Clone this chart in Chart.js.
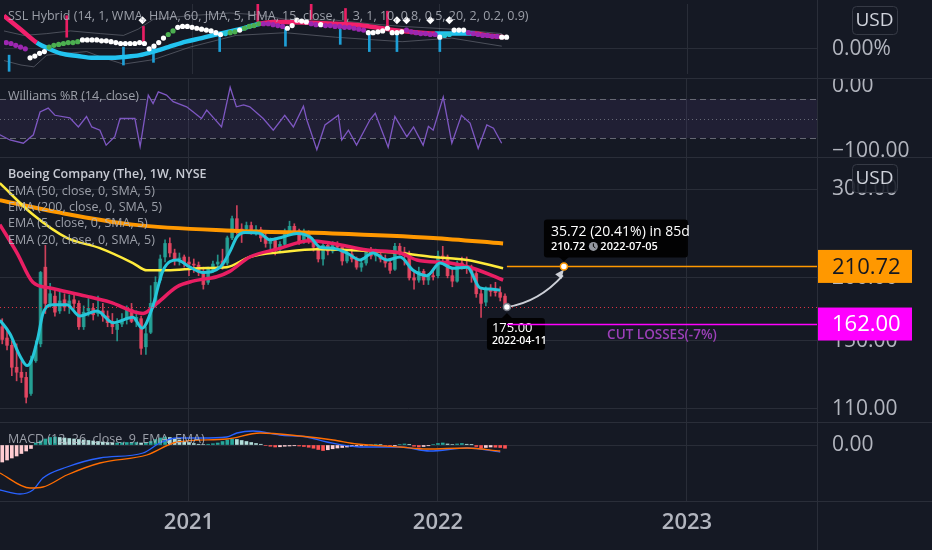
<!DOCTYPE html>
<html>
<head>
<meta charset="utf-8">
<script src="https://cdn.jsdelivr.net/npm/chart.js"></script>
<style>
  body { margin: 0; background: #2a2e39; }
  #wrap { position: relative; width: 932px; height: 550px; overflow: hidden; background: #2a2e39; }
  #wrap canvas { position: absolute; left: 0; display: block; background: #151924; }
</style>
</head>
<body>
<div id="wrap">
  <canvas id="sslPane" width="932" height="78" style="top:0px"></canvas>
  <canvas id="wprPane" width="932" height="78" style="top:79px"></canvas>
  <canvas id="pricePane" width="932" height="264" style="top:158px"></canvas>
  <canvas id="macdPane" width="932" height="127" style="top:423px"></canvas>
</div>

<script>
// x values are weeks counted from the first weekly bar of 2021 (2021-01-04)
const firstWeek = -39;
const yearTicks = [0, 52, 104];
const yearLabels = ['2021', '2022', '2023'];

// Boeing weekly candles, 2020-04-06 .. 2022-04-11
const candleOpen = [160,152,147,133,130,127,118,137,148,210,178,184,172,181,176,181,178,160,172,174,170,172,168,164,158,162,166,173,164,166,146,156,178,198,220,234,224,218,220,215,213,212,205,196,208,213,216,214,240,262,250,250,254,247,249,241,234,237,228,233,248,253,248,236,246,236,230,218,232,226,233,230,216,223,218,210,214,226,221,222,218,214,208,231,225,222,200,198,206,198,202,202,221,220,202,197,214,211,210,204,186,179,190,189,187,184];
const candleHigh = [166,158,150,148,137,130,140,150,206,232,195,190,189,186,185,186,180,176,182,178,184,178,172,170,166,170,176,178,172,168,160,193,201,222,238,240,228,224,222,220,218,215,210,210,216,222,228,242,265,278,256,258,258,254,252,246,240,240,236,250,259,256,250,250,248,238,232,236,236,236,236,232,226,226,220,216,228,230,228,226,222,218,234,234,230,226,205,210,208,204,206,226,231,222,208,216,220,220,212,206,190,192,194,196,192,186];
const candleLow = [148,144,128,125,124,113,117,136,146,170,175,168,170,172,170,174,158,158,168,165,168,164,160,155,150,160,162,163,160,141,141,155,175,196,215,220,212,212,210,202,205,202,190,194,205,210,208,212,238,244,235,245,244,243,236,230,228,222,224,232,245,244,233,234,234,226,215,212,222,224,228,212,214,215,208,206,212,218,216,215,210,204,207,222,212,198,190,196,194,194,198,200,216,200,192,196,208,204,196,183,167,176,184,184,180,174];
const candleClose = [151,147,133,130,127,116,137,146,205,178,186,171,180,175,180,178,160,171,174,169,172,168,163,160,162,165,173,164,167,145,155,178,196,218,234,224,218,219,214,213,212,205,194,208,213,215,212,240,262,250,248,254,246,249,240,234,237,228,233,247,253,248,236,246,236,230,218,232,226,233,230,216,223,218,210,214,226,221,222,218,214,207,231,225,222,200,198,206,198,202,201,221,220,202,197,214,211,210,205,186,178,190,188,187,183,175];

// moving averages
const ema200Week = [-39.5, -27.6, -11.7, 9.2, 30, 51, 65.6];
const ema200Value = [285, 270, 255, 248, 245, 240, 234];
const ema50Week = [-39.5, -32.6, -25.5, -18.6, -11.7, -8.8, -4.6, 2.3, 7.9, 12.7, 19.6, 26.7, 33.6, 44.1, 51, 58.1, 65.6];
const ema50Value = [308, 267, 240, 229, 214, 207, 207, 209, 210, 220, 225, 228, 227, 224, 220, 217, 209];
const ema20Week = [-39.5, -35.9, -32.6, -29, -21.5, -16.5, -9.6, -6.7, -2.5, 0.8, 5.8, 8.5, 12.7, 18.4, 25.3, 30.1, 37.2, 44.1, 47.6, 54.5, 59.3, 65.6];
const ema20Value = [255, 224, 196, 191, 184, 179, 170, 178, 192, 197, 201, 206, 220, 228, 237, 234, 227, 224, 217, 214, 209, 198];
const ema5Week = [-39.5,-37.4,-35.3,-33.8,-32.8,-31.5,-30.5,-28.4,-25.5,-22.8,-19.2,-15.9,-11.7,-9.8,-7.7,-5.4,-2.5,0.2,2.9,6.5,8.6,10,11.7,14.8,16.9,19.6,22.6,25.3,27.4,30.1,33,35.7,38.4,41.4,44.1,46.8,49.7,52.4,55.1,58.1,60.8,62.9,65];
const ema5Value = [165,155,140,134,138,153,170,177,177,168,172,163,167,159,174,207,217,210,205,210,226,241,246,245,238,241,245,241,230,229,224,217,224,217,220,207,202,214,209,210,191,190,189];

// trade drawing
const entryWeek = 66.4, entryPrice = 175.00, entryDate = '2022-04-11';
const targetWeek = 78.3, targetPrice = 210.72, targetDate = '2022-07-05';
const stopPrice = 162.00;
const moveText = '35.72 (20.41%) in 85d';
const stopText = 'CUT LOSSES(-7%)';
const priceTicks = [110, 150, 200, 300];

// SSL Hybrid pane (values in pane percent)
const sslBaseWeek = [-39.5, -36, -32.6, -30, -27.6, -24, -20.7, -17, -14.4, -11, -8.1, -5, -1.3, 2, 5.8, 10, 14.2, 17, 19.6, 25, 30.1, 34, 37.2, 41, 44.1, 48, 51, 55, 59.3, 62, 65.5];
const sslBaseValue = [37, 22, 7, 0, -5, -8, -10, -10, -9, -7, -3, 2, 8, 12, 17, 22, 28, 30, 30, 29, 28, 27, 25, 22, 20, 18, 17, 17, 17, 15, 13];
const sslTrend = ['dn','dn','up','up','up','up','up','up','up','up','up','up','up','up','up','up','dn','dn','dn','dn','dn','dn','dn','dn','dn','dn','up','up','dn','dn','dn'];
const sslDotValue = [7,6,4,2,0,-10,-8,-5,-3,2,4,5,6,7,7,8,10,10,10,10,9,9,8,7,6,6,6,6,7,6,0,3,7,12,16,20,24,25,25,24,23,22,21,20,18,16,17,18,19,21,23,25,26,28,28,28,27,26,25,23,26,32,31,30,28,27,27,26,26,25,25,24,24,23,22,21,18,18,19,20,23,18,18,19,21,19,18,17,17,16,16,13,15,16,21,21,21,18,17,16,15,15,14,14,13,13];
const sslDotKind = 'ppppp' + 'wwww' + 'ggggggg' + 'wwwwwwwwwwwwwwwwww' + 'gg' + 'wwwwwwwwww' + 'c' + 'gg' + 'w' + 'gggg' +
                   'ppppp' + 'wwwww' + 'pp' + 'w' + 'ppppppppp' + 'wwwwwwww' + 'ppppppp' + 'w' + 'cc' + 'www' + 'ppppppp' + 'ww';
const sslUpperWeek = [-39.5, -35.3, -30.5, -25.5, -19.2, -14.4, -11.3, -8.1, -0.4, 7.9, 13.8, 19.6, 30.1, 37.2, 44.1, 54.5, 65];
const sslUpperValue = [20, 15, 17, 20, 17, 15, 22, 33, 37, 40, 38, 33, 32, 28, 25, 22, 17];
const sslLowerWeek = [-39.5, -35.9, -33.2, -30.5, -22.1, -18.6, -14.4, -8.1, -0.4, 9.2, 19.6, 30.1, 44.1, 54.5, 65];
const sslLowerValue = [-13, -18, -20, -7, -3, -10, -17, -12, 2, 15, 18, 13, 8, 12, 3];
const sellTickWeek = [-38.4, -14.4, -8.1, 5.8, 19.6, 31.1, 37.2, 43, 52];
const sellTickRange = [[-25,-7],[-18,2],[-15,5],[-3,17],[3,23],[5,22],[-3,17],[-3,18],[-3,13]];
const buyTickWeek = [-26.3, -10.2, 13.8, 25, 32.2, 41];
const buyTickRange = [[13,37],[7,25],[30,50],[33,50],[25,45],[22,42]];
const diamondWeek = [-10.4, 43, 45, 50, 54];
const diamondValue = [32, 32, 32, 32, 32];

// Williams %R (14, close)
const wprWeek = [-39.5,-37.4,-34.6,-32.5,-31.1,-29.4,-28.0,-24.9,-23.1,-21.4,-20.3,-18.6,-17.3,-15.5,-14.4,-11.3,-10.2,-8.5,-7.5,-6.4,-4.7,-3.3,-0.5,0.9,2.6,3.7,6.8,8.6,9.9,11.4,12.7,15.5,17.6,20.0,21.8,23.9,24.6,26.7,28.4,31.2,31.9,33.3,35.0,37.8,38.9,41.6,43.0,45.5,46.9,48.9,50.0,51.0,53.1,54.9,56.9,58.7,60.4,62.2,63.6,65.3];
const wprValue = [-75,-83,-88,-75,-40,-34,-45,-49,-63,-47,-63,-68,-91,-78,-50,-50,-93,-14,-27,-9,-14,-24,-32,-40,-50,-37,-63,-2,-32,-29,-32,-50,-68,-45,-63,-31,-52,-98,-60,-45,-83,-68,-91,-52,-42,-94,-47,-78,-63,-91,-62,-68,-17,-88,-45,-57,-96,-60,-65,-88];

// MACD (12, 26, close, 9)
const macdHist = [-6.8,-6.0,-5.2,-4.4,-3.4,-2.4,-1.4,
  0.8,1.6,2.4,3.0,3.2,3.0,2.8,2.6,2.4,2.2,2.0,1.8,1.6,1.4,1.2,1.0,0.8,0.8,0.9,1.0,1.0,1.0,0.8,0.9,1.4,2.2,2.8,3.2,3.0,2.6,2.0,1.4,
  1.0,0.6,0.3,0.2,0.3,0.5,0.8,1.4,2.0,2.4,2.2,1.8,1.4,1.0,0.6,0.3,-0.2,-0.5,-0.8,-0.7,-0.5,-0.4,-0.3,-0.4,-0.6,-0.9,-1.3,-1.8,-2.2,-1.9,
  -1.5,-1.2,-1.0,-0.8,-0.6,-0.5,-0.3,-0.2,0.2,0.3,0.2,-0.2,-0.5,-0.3,0.2,0.4,0.1,-0.5,-0.8,-0.6,-0.3,0.2,0.6,0.8,0.4,0.2,0.4,0.6,0.3,0.1,
  -0.6,-1.2,-1.0,-0.8,-0.9,-1.0,-1.3];
const macdWeek = [-39.5,-35.3,-32.6,-30.5,-25.5,-18.6,-9.6,-6.1,-2.5,2.3,7.9,10,13.4,19,24.6,28.8,35.7,44.1,50.3,58.1,65];
const macdValue = [-18,-19.6,-18,-13.2,-8.8,-5.2,-3.2,0.8,2.8,2.8,3.2,4.8,5.6,4,3.2,1.2,-0.8,-0.8,-2.4,-1.2,-2.8];
const signalWeek = [-39.5,-33.2,-30.5,-25.5,-18.6,-8.8,-2.5,7.9,14.8,23.2,30.1,35.1,44.1,49.7,58.1,65];
const signalValue = [-11.2,-17.2,-16.8,-12,-7.2,-4,1.2,2.4,4.8,3.6,2,0.4,-0.8,-1.6,-1.2,-2.4];

const xMin = -39.47, xMax = 131.16;
const gridColor = 'rgba(42,46,57,0.95)';
const axisText = '#b2b5be';
const fontFamily = "'Open Sans', 'Noto Sans', sans-serif";

const pts = (xs, ys) => xs.map((x, i) => ({ x: x, y: ys[i] }));

function xAxis(showLabels) {
  return {
    type: 'linear', min: xMin, max: xMax, offset: false, bounds: 'data',
    grid: { color: gridColor, drawTicks: false, offset: false },
    border: { display: false },
    afterBuildTicks: s => { s.ticks = yearTicks.map(v => ({ value: v })); },
    ticks: {
      display: showLabels, padding: 9, color: axisText, maxRotation: 0, autoSkip: false,
      font: { family: fontFamily, size: 22, weight: '600' },
      callback: v => yearLabels[yearTicks.indexOf(v)]
    },
    afterFit: s => { s.height = showLabels ? 49 : 0; s.paddingLeft = 0; s.paddingRight = 0; }
  };
}

function yAxis(type, min, max, tickValues, fmt, showGrid) {
  return {
    type: type, position: 'right', min: min, max: max, bounds: 'data',
    grid: { display: showGrid, color: gridColor, drawTicks: false },
    border: { display: false },
    afterBuildTicks: s => { s.ticks = tickValues.map(v => ({ value: v })); },
    ticks: { color: axisText, padding: 15, font: { family: fontFamily, size: 21 }, callback: fmt },
    afterFit: s => { s.width = 115; s.paddingTop = 0; s.paddingBottom = 0; }
  };
}

function roundBox(ctx, x, y, w, h, r, fill) {
  ctx.fillStyle = fill;
  ctx.beginPath();
  ctx.roundRect(x, y, w, h, r);
  ctx.fill();
}

function hline(ctx, x1, x2, y) {
  ctx.beginPath();
  ctx.moveTo(x1, Math.round(y) + 0.5);
  ctx.lineTo(x2, Math.round(y) + 0.5);
  ctx.stroke();
}

// separators, legends and the USD badge of every pane
const panePlugin = {
  id: 'pane',
  afterDraw(chart, args, opts) {
    const { ctx, chartArea: a } = chart;
    ctx.save();
    ctx.strokeStyle = '#2a2e39';
    ctx.lineWidth = 1;
    ctx.beginPath();
    ctx.moveTo(a.right + 0.5, 0);
    ctx.lineTo(a.right + 0.5, chart.height);
    ctx.stroke();
    if (opts.bottomRule) hline(ctx, 0, chart.width, a.bottom);
    ctx.textBaseline = 'middle';
    ctx.textAlign = 'left';
    (opts.legend || []).forEach(([text, y, strong]) => {
      ctx.font = (strong ? '600 ' : '') + '12.5px ' + fontFamily;
      ctx.fillStyle = strong ? 'rgba(209,212,220,0.95)' : 'rgba(178,181,190,0.85)';
      ctx.fillText(text, 8, y);
    });
    if (opts.usd) {
      roundBox(ctx, 852, 6, 45, 28, 4, 'rgba(21,25,36,0.88)');
      ctx.strokeStyle = '#363a45';
      ctx.beginPath();
      ctx.roundRect(852.5, 6.5, 45, 28, 4);
      ctx.stroke();
      ctx.fillStyle = '#d1d4dc';
      ctx.font = '19px ' + fontFamily;
      ctx.textAlign = 'center';
      ctx.fillText('USD', 874.5, 21);
    }
    ctx.restore();
  }
};

// Williams %R band and levels
const wprPlugin = {
  id: 'wprBand',
  beforeDatasetsDraw(chart) {
    const { ctx, chartArea: a, scales: { y } } = chart;
    const y20 = y.getPixelForValue(-20), y50 = y.getPixelForValue(-50), y80 = y.getPixelForValue(-80);
    ctx.save();
    ctx.fillStyle = 'rgba(126,87,194,0.1)';
    ctx.fillRect(a.left, y20, a.right - a.left, y80 - y20);
    ctx.strokeStyle = 'rgba(120,123,134,0.8)';
    ctx.lineWidth = 1;
    ctx.setLineDash([6, 4]);
    hline(ctx, a.left, a.right, y20);
    hline(ctx, a.left, a.right, y80);
    ctx.setLineDash([1, 3]);
    hline(ctx, a.left, a.right, y50);
    ctx.restore();
  }
};

// entry / target / stop drawing on the price pane
const tradePlugin = {
  id: 'trade',
  afterDatasetsDraw(chart) {
    const { ctx, chartArea: a, scales: { x, y } } = chart;
    const ex = x.getPixelForValue(entryWeek), ey = y.getPixelForValue(entryPrice);
    const tx = x.getPixelForValue(targetWeek), ty = y.getPixelForValue(targetPrice);
    const sy = y.getPixelForValue(stopPrice);
    const lastY = y.getPixelForValue(candleClose[candleClose.length - 1]);
    ctx.save();
    ctx.lineWidth = 1;
    ctx.strokeStyle = 'rgba(242,54,69,0.9)';
    ctx.setLineDash([1, 3]);
    hline(ctx, a.left, a.right, lastY);
    ctx.setLineDash([]);

    ctx.lineWidth = 1.5;
    ctx.strokeStyle = '#ff9800';
    hline(ctx, ex, a.right, ty);

    // entry label
    roundBox(ctx, ex - 20, ey + 11, 58, 32, 3, 'rgba(0,0,0,0.92)');
    ctx.beginPath();
    ctx.moveTo(ex - 5, ey + 11); ctx.lineTo(ex + 5, ey + 11); ctx.lineTo(ex, ey + 6);
    ctx.closePath(); ctx.fill();
    ctx.textBaseline = 'middle';
    ctx.textAlign = 'left';
    ctx.fillStyle = '#ffffff';
    ctx.font = '13px ' + fontFamily;
    ctx.fillText(entryPrice.toFixed(2), ex - 15, ey + 21);
    ctx.font = '600 10.5px ' + fontFamily;
    ctx.fillText(entryDate, ex - 15, ey + 34);

    ctx.lineWidth = 1.5;
    ctx.strokeStyle = '#ff00ff';
    hline(ctx, ex, a.right, sy);
    ctx.fillStyle = '#9c3fb8';
    ctx.font = '600 13.5px ' + fontFamily;
    ctx.textAlign = 'center';
    ctx.fillText(stopText, (ex + a.right) / 2, sy + 11);
    ctx.textAlign = 'left';

    // curved arrow from entry to target
    const cx = ex + 32, cy = ey - 5;
    const tipX = tx, tipY = ty + 3;
    ctx.strokeStyle = 'rgba(214,217,224,0.95)';
    ctx.fillStyle = 'rgba(214,217,224,0.95)';
    ctx.lineWidth = 2;
    ctx.beginPath();
    ctx.moveTo(ex, ey);
    ctx.quadraticCurveTo(cx, cy, tipX - 1, tipY + 6);
    ctx.stroke();
    const ang = Math.atan2(tipY - cy, tipX - cx);
    ctx.beginPath();
    ctx.moveTo(tipX, tipY);
    ctx.lineTo(tipX - 10 * Math.cos(ang - 0.4), tipY - 10 * Math.sin(ang - 0.4));
    ctx.lineTo(tipX - 10 * Math.cos(ang + 0.4), tipY - 10 * Math.sin(ang + 0.4));
    ctx.closePath();
    ctx.fill();

    ctx.lineWidth = 1.5;
    ctx.fillStyle = '#ffffff';
    ctx.strokeStyle = '#787b86';
    ctx.beginPath(); ctx.arc(ex, ey, 3.5, 0, Math.PI * 2); ctx.fill(); ctx.stroke();
    ctx.strokeStyle = '#ff9800';
    ctx.beginPath(); ctx.arc(tx, ty, 3.5, 0, Math.PI * 2); ctx.fill(); ctx.stroke();

    // target label
    roundBox(ctx, tx - 20, ty - 47, 144, 38, 3, 'rgba(0,0,0,0.92)');
    ctx.beginPath();
    ctx.moveTo(tx - 5, ty - 9.5); ctx.lineTo(tx + 5, ty - 9.5); ctx.lineTo(tx, ty - 5);
    ctx.closePath(); ctx.fill();
    ctx.fillStyle = '#ffffff';
    ctx.font = '14px ' + fontFamily;
    ctx.fillText(moveText, tx - 13, ty - 34);
    ctx.font = '600 11px ' + fontFamily;
    const priceTxt = targetPrice.toFixed(2);
    ctx.fillText(priceTxt, tx - 13, ty - 20);
    const w1 = ctx.measureText(priceTxt).width;
    const clockX = tx - 13 + w1 + 8, clockY = ty - 20;
    ctx.fillStyle = '#9598a1';
    ctx.beginPath(); ctx.arc(clockX, clockY, 4.5, 0, Math.PI * 2); ctx.fill();
    ctx.strokeStyle = '#000000';
    ctx.lineWidth = 1;
    ctx.beginPath(); ctx.moveTo(clockX, clockY - 3); ctx.lineTo(clockX, clockY); ctx.lineTo(clockX + 2, clockY + 1.5); ctx.stroke();
    ctx.fillStyle = '#ffffff';
    ctx.fillText(targetDate, clockX + 7, clockY);
    ctx.restore();
  },
  afterDraw(chart) {
    const { ctx, chartArea: a, scales: { y } } = chart;
    ctx.save();
    [[targetPrice, '#ff9800', '#131722'], [stopPrice, '#ff00ff', '#ffffff']].forEach(([p, bg, fg]) => {
      const py = y.getPixelForValue(p);
      ctx.fillStyle = bg;
      ctx.fillRect(a.right + 1, py - 16.5, 94, 33);
      ctx.fillStyle = fg;
      ctx.font = '22px ' + fontFamily;
      ctx.textBaseline = 'middle';
      ctx.textAlign = 'left';
      ctx.fillText(p.toFixed(2), a.right + 15, py + 1);
    });
    ctx.restore();
  }
};

const baseOptions = {
  responsive: false,
  animation: false,
  devicePixelRatio: 1,
  events: [],
  layout: { padding: 0 }
};

// ---- SSL Hybrid pane
const dotColors = { w: '#ffffff', g: '#4caf50', p: '#9c27b0', c: '#26c6da' };
new Chart(document.getElementById('sslPane'), {
  type: 'bar',
  data: {
    datasets: [
      { type: 'line', data: pts(sslUpperWeek, sslUpperValue), borderColor: 'rgba(120,123,134,0.55)', borderWidth: 1, pointRadius: 0, order: 9 },
      { type: 'line', data: pts(sslLowerWeek, sslLowerValue), borderColor: 'rgba(120,123,134,0.55)', borderWidth: 1, pointRadius: 0, order: 9 },
      { data: pts(sellTickWeek, sellTickRange), backgroundColor: '#1e9fd6', barThickness: 2, grouped: false, order: 8 },
      { data: pts(buyTickWeek, buyTickRange), backgroundColor: '#e91e63', barThickness: 2, grouped: false, order: 8 },
      { type: 'line', data: pts(sslBaseWeek, sslBaseValue), borderWidth: 4.5, pointRadius: 0, cubicInterpolationMode: 'monotone',
        segment: { borderColor: c => sslTrend[c.p0DataIndex] === 'up' ? '#22c3f0' : '#f2206c' }, order: 5 },
      { type: 'line', data: sslDotValue.map((v, i) => ({ x: firstWeek + i, y: v })), showLine: false, pointRadius: 2.6, pointBorderWidth: 0,
        pointBackgroundColor: sslDotValue.map((v, i) => dotColors[sslDotKind[i]]), order: 2 },
      { type: 'line', data: pts(diamondWeek, diamondValue), showLine: false, pointStyle: 'rectRot', pointRadius: 4, pointBorderWidth: 0,
        pointBackgroundColor: '#ffffff', order: 1 }
    ]
  },
  options: Object.assign({}, baseOptions, {
    scales: {
      x: xAxis(false),
      y: yAxis('linear', -28, 50, [0], v => v.toFixed(2) + '%', true)
    },
    plugins: {
      legend: { display: false }, tooltip: { enabled: false },
      pane: { usd: true, legend: [['SSL Hybrid (14, 1, WMA, HMA, 60, JMA, 5, HMA, 15, close, 1, 3, 1, 10, 0.8, 0.5, 20, 2, 0.2, 0.9)', 16, false]] }
    }
  }),
  plugins: [panePlugin]
});

// ---- Williams %R pane
new Chart(document.getElementById('wprPane'), {
  type: 'line',
  data: {
    datasets: [
      { data: pts(wprWeek, wprValue), borderColor: '#7e57c2', borderWidth: 1.3, pointRadius: 0, tension: 0 }
    ]
  },
  options: Object.assign({}, baseOptions, {
    scales: {
      x: xAxis(false),
      y: yAxis('linear', -109.2, 10.8, [0, -100], v => (v < 0 ? '\u2212' + Math.abs(v).toFixed(2) : v.toFixed(2)), false)
    },
    plugins: {
      legend: { display: false }, tooltip: { enabled: false },
      pane: { legend: [['Williams %R (14, close)', 17, false]] }
    }
  }),
  plugins: [wprPlugin, panePlugin]
});

// ---- price pane
const upColor = 'rgba(38,166,154,0.85)';
const downColor = 'rgba(236,72,100,0.85)';
const candleColor = candleClose.map((c, i) => (c >= candleOpen[i] ? upColor : downColor));
new Chart(document.getElementById('pricePane'), {
  type: 'bar',
  data: {
    datasets: [
      { data: candleClose.map((c, i) => ({ x: firstWeek + i, y: [candleLow[i], candleHigh[i]] })),
        backgroundColor: candleColor, barThickness: 1, grouped: false, order: 11 },
      { data: candleClose.map((c, i) => ({ x: firstWeek + i, y: [candleOpen[i], c] })),
        backgroundColor: candleColor, barThickness: 3, grouped: false, minBarLength: 1, order: 10 },
      { type: 'line', data: pts(ema200Week, ema200Value), borderColor: '#ff9800', borderWidth: 4, pointRadius: 0, cubicInterpolationMode: 'monotone', order: 5 },
      { type: 'line', data: pts(ema50Week, ema50Value), borderColor: '#ffeb3b', borderWidth: 2.5, pointRadius: 0, cubicInterpolationMode: 'monotone', order: 4 },
      { type: 'line', data: pts(ema20Week, ema20Value), borderColor: '#e91e63', borderWidth: 3.5, pointRadius: 0, cubicInterpolationMode: 'monotone', order: 3 },
      { type: 'line', data: pts(ema5Week, ema5Value), borderColor: '#26c6da', borderWidth: 3, pointRadius: 0, cubicInterpolationMode: 'monotone', order: 2 }
    ]
  },
  options: Object.assign({}, baseOptions, {
    scales: {
      x: xAxis(false),
      y: yAxis('logarithmic', 103.6, 345.6, priceTicks, v => Number(v).toFixed(2), true)
    },
    plugins: {
      legend: { display: false }, tooltip: { enabled: false },
      pane: { usd: true, legend: [
        ['Boeing Company (The), 1W, NYSE', 16, true],
        ['EMA (50, close, 0, SMA, 5)', 33, false],
        ['EMA (200, close, 0, SMA, 5)', 49, false],
        ['EMA (5, close, 0, SMA, 5)', 65, false],
        ['EMA (20, close, 0, SMA, 5)', 82, false]
      ] }
    }
  }),
  plugins: [tradePlugin, panePlugin]
});

// ---- MACD pane with the time axis
const histColor = macdHist.map((h, i) => {
  const prev = i ? macdHist[i - 1] : h;
  if (h >= 0) return h >= prev ? '#26a69a' : '#b2dfdb';
  return h >= prev ? '#ffcdd2' : '#ff5252';
});
new Chart(document.getElementById('macdPane'), {
  type: 'bar',
  data: {
    datasets: [
      { data: macdHist.map((h, i) => ({ x: firstWeek + i, y: h })), backgroundColor: histColor, barThickness: 3, grouped: false, order: 5 },
      { type: 'line', data: pts(macdWeek, macdValue), borderColor: '#2962ff', borderWidth: 1.3, pointRadius: 0, cubicInterpolationMode: 'monotone', order: 2 },
      { type: 'line', data: pts(signalWeek, signalValue), borderColor: '#ff6d00', borderWidth: 1.3, pointRadius: 0, cubicInterpolationMode: 'monotone', order: 1 }
    ]
  },
  options: Object.assign({}, baseOptions, {
    scales: {
      x: xAxis(true),
      y: yAxis('linear', -22.4, 8.8, [0], v => v.toFixed(2), true)
    },
    plugins: {
      legend: { display: false }, tooltip: { enabled: false },
      pane: { bottomRule: true, legend: [['MACD (12, 26, close, 9, EMA, EMA)', 16, false]] }
    }
  }),
  plugins: [panePlugin]
});
</script>
</body>
</html>
